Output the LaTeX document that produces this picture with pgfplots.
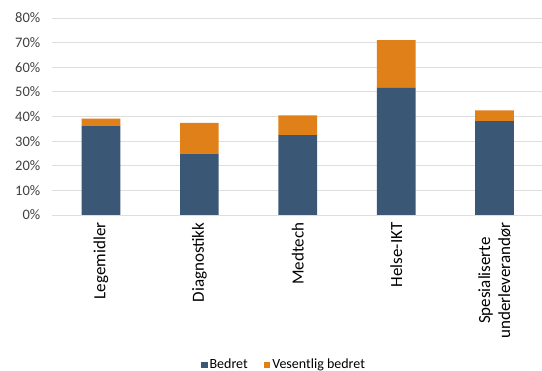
\documentclass[border=0pt]{standalone}
\usepackage{pgfplots}
\pgfplotsset{compat=1.18}
\usepackage{fontspec}
\setmainfont{Carlito}
\definecolor{bedret}{RGB}{59,87,118}
\definecolor{vesentlig}{RGB}{224,128,24}
\definecolor{gridgray}{RGB}{222,222,222}
\definecolor{labelgray}{RGB}{64,64,64}
\begin{document}
\begin{tikzpicture}[x=1pt,y=1pt]
\useasboundingbox (-51.8,-156) rectangle (490.2,215);
\begin{axis}[
  at={(0,0)}, anchor=south west,
  scale only axis,
  width=492pt, height=197pt,
  ybar stacked,
  bar width=38.7pt,
  xmin=-0.5, xmax=4.5,
  ymin=0, ymax=80,
  xtick=data,
  xticklabels={Legemidler,Diagnostikk,Medtech,Helse-IKT,{Spesialiserte\\underleverandør}},
  xticklabel style={yshift=-4pt, rotate=90, anchor=east, align=center,
    font=\fontsize{17}{20}\selectfont, text=black},
  ytick={0,10,...,80},
  yticklabel={\pgfmathprintnumber{\tick}\%},
  yticklabel style={font=\fontsize{14.5}{16}\selectfont, text=labelgray, xshift=-8pt},
  /pgf/number format/assume math mode=true,
  ymajorgrids,
  grid style={gridgray, line width=0.8pt},
  axis line style={draw=none},
  major tick length=0pt,
  legend style={at={(0.472,-0.76)}, anchor=center, draw=none, legend columns=2,
    font=\fontsize{14}{16}\selectfont,
    /tikz/every even column/.append style={column sep=14pt}},
  legend image code/.code={\fill[#1] (0pt,-3.2pt) rectangle (6.5pt,3.2pt);},
]
\addplot[fill=bedret, draw=none] coordinates {(0,36.3) (1,24.9) (2,32.4) (3,51.6) (4,38.1)};
\addplot[fill=vesentlig, draw=none] coordinates {(0,2.8) (1,12.5) (2,8.1) (3,19.4) (4,4.4)};
\legend{Bedret, Vesentlig bedret}
\end{axis}
\end{tikzpicture}
\end{document}
